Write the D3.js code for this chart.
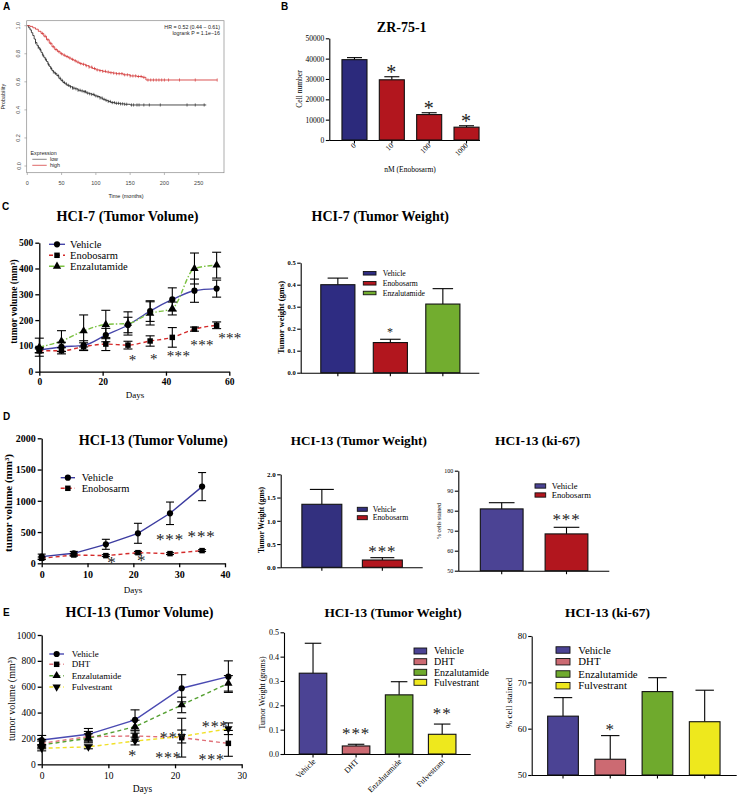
<!DOCTYPE html>
<html><head><meta charset="utf-8">
<script src="https://cdn.jsdelivr.net/npm/d3@7"></script>
<style>body{margin:0;background:#fff}svg{display:block}</style>
</head><body>
<script>
// ================= DATA =================
// Panel A (Kaplan-Meier)
const kmLowTime = [0,2,4,6,8,10,12,14,16,18,20,22,24,26,28,30,32,34,36,38,40,43,46,49,52,55,58,62,66,70,74,78,82,86,90,94,98,102,106,110,114,118,122,128,135,142,150,261];
const kmLowSurv = [1.0,0.985,0.97,0.95,0.93,0.905,0.88,0.86,0.845,0.83,0.81,0.79,0.775,0.76,0.745,0.725,0.71,0.695,0.68,0.67,0.66,0.645,0.625,0.61,0.595,0.585,0.575,0.565,0.555,0.55,0.54,0.535,0.53,0.52,0.515,0.51,0.5,0.495,0.485,0.475,0.468,0.46,0.452,0.447,0.443,0.44,0.435,0.435];
const kmHighTime = [0,4,8,12,16,20,24,28,32,36,40,44,48,52,56,60,64,68,72,76,80,85,90,95,100,105,110,115,120,125,130,140,150,160,168,173,277];
const kmHighSurv = [1.0,0.995,0.985,0.975,0.96,0.945,0.925,0.9,0.875,0.85,0.83,0.815,0.8,0.79,0.78,0.77,0.76,0.75,0.74,0.73,0.725,0.715,0.705,0.695,0.685,0.68,0.675,0.67,0.665,0.662,0.658,0.65,0.642,0.638,0.632,0.613,0.613];
const kmLowCensor = [12,16,19,23,27,31,35,38,41,45,48,51,54,57,60,63,66,68,71,74,77,80,83,85,88,91,94,97,100,103,106,109,112,115,118,121,124,127,130,133,136,139,142,145,152,155,160,163,170,178,194,233,245,258];
const kmHighCensor = [22,26,30,34,38,42,46,50,54,58,62,66,70,74,78,82,86,90,94,98,102,106,110,114,118,122,126,130,134,138,142,146,150,154,158,162,166,170,176,180,184,188,192,196,200,206,222,245,277];
const kmXTicks = [0,50,100,150,200,250];
const kmYTicks = [0,0.2,0.4,0.6,0.8,1.0];

// Panel B
const bCats = ["0","10","100","1000"];
const bVals = [39500,29600,12500,6300];
const bErrs = [1000,1500,900,700];
const bStars = ["","*","*","*"];
const bYTicks = [0,10000,20000,30000,40000,50000];

// Panel C (HCI-7)
const cDays = [0,7,14,21,28,35,42,49,56];
const cVehicle = [84,96,102,142,181,235,280,314,322];
const cVehicleErr = [10,18,18,26,30,40,45,45,33];
const cEnobosarm = [81,81,97,107,103,119,133,165,180];
const cEnobosarmErr = [8,12,15,25,15,20,38,8,13];
const cEnzalutamide = [95,119,158,183,187,226,245,400,413];
const cEnzalutamideErr = [35,40,62,55,45,45,25,60,50];
const cXTicks = [0,20,40,60];
const cYTicks = [0,100,200,300,400,500];
const cStarDays = [29.5,36.2,43.96,51.4,60.2];
const cStarVals = [53,57,69,111,138];
const cStarLabels = ["*","*","***","***","***"];
const cwCats = ["Vehicle","Enobosarm","Enzalutamide"];
const cwVals = [0.40,0.137,0.312];
const cwErrs = [0.03,0.015,0.07];
const cwStars = ["","*",""];
const cwYTicks = [0,0.1,0.2,0.3,0.4,0.5];

// Panel D (HCI-13)
const dDays = [0,7,14,21,28,35];
const dVehicle = [107,160,304,480,800,1227];
const dVehicleErr = [40,30,80,160,180,225];
const dEnobosarm = [80,133,123,170,155,203];
const dEnobosarmErr = [20,20,15,20,15,15];
const dXTicks = [0,10,20,30,40];
const dYTicks = [0,500,1000,1500,2000];
const dStarDays = [15.3,21.8,28,34.9];
const dStarVals = [53,85,421,469];
const dStarLabels = ["*","*","***","***"];
const dwCats = ["Vehicle","Enobosarm"];
const dwVals = [1.355,0.157];
const dwErrs = [0.32,0.05];
const dwStars = ["","***"];
const dwYTicks = [0,0.5,1.0,1.5,2.0];
const dkVals = [80.9,68.4];
const dkErrs = [3.1,3.3];
const dkStars = ["","***"];
const dkYTicks = [50,60,70,80,90,100];

// Panel E (HCI-13)
const eDays = [0,7,14,21,28];
const eVehicle = [188,232,343,588,678];
const eVehicleErr = [35,45,78,105,122];
const eDHT = [162,214,219,206,162];
const eDHTErr = [30,40,40,150,100];
const eEnzalutamide = [150,201,291,459,626];
const eEnzalutamideErr = [30,35,50,60,60];
const eFulvestrant = [124,135,180,215,275];
const eFulvestrantErr = [20,15,30,50,45];
const eXTicks = [0,10,20,30];
const eYTicks = [0,200,400,600,800,1000];
const eStarDays = [13.65,19,19.7,26,25.5];
const eStarVals = [85,72,221,309,51];
const eStarLabels = ["*","***","***","***","***"];
const ewCats = ["Vehicle","DHT","Enzalutamide","Fulvestrant"];
const ewVals = [0.332,0.033,0.243,0.081];
const ewErrs = [0.123,0.007,0.054,0.042];
const ewStars = ["","***","","**"];
const ewYTicks = [0,0.1,0.2,0.3,0.4,0.5];
const ekVals = [62.7,53.4,68.0,61.5];
const ekErrs = [4.0,5.1,3.0,6.8];
const ekStars = ["","*","",""];
const ekYTicks = [50,60,70,80];

// ================= DRAWING =================
const W=737,H=797;
const SERIF="'Liberation Serif','Times New Roman',Times,serif";
const SANS="'Liberation Sans',Arial,Helvetica,sans-serif";
const svg=d3.select("body").append("svg").attr("width",W).attr("height",H);
svg.append("rect").attr("width",W).attr("height",H).attr("fill","#fff");

function txt(g,x,y,s,o={}){
  const t=g.append("text").attr("x",x).attr("y",y).text(s)
    .attr("font-family",o.family||SERIF).attr("font-size",o.size||10)
    .attr("font-weight",o.weight||"normal").attr("text-anchor",o.anchor||"start")
    .attr("fill",o.fill||"#000");
  if(o.rotate!=null) t.attr("transform",`rotate(${o.rotate},${x},${y})`);
  if(o.ls!=null) t.attr("letter-spacing",o.ls);
  return t;
}
function styleAxis(sel,o){
  sel.attr("font-family",null).attr("font-size",null);
  sel.select(".domain").attr("stroke","#000").attr("stroke-width",o.w||1.2);
  sel.selectAll(".tick line").attr("stroke","#000").attr("stroke-width",o.w||1.2);
  sel.selectAll(".tick text").attr("font-family",o.family||SERIF).attr("font-size",o.size)
    .attr("font-weight",o.weight||"normal").attr("fill","#000");
}
function star(g,cx,cy,label,fs,ls){
  txt(g,cx,cy+0.47*fs,label,{size:fs,anchor:"middle",fill:"#222",ls:ls!=null?ls:fs*0.05});
}

// Panel letters
txt(svg,3,9.5,"A",{family:SANS,size:10,weight:"bold"});
txt(svg,281,9.5,"B",{family:SANS,size:10,weight:"bold"});
txt(svg,2,209.5,"C",{family:SANS,size:10,weight:"bold"});
txt(svg,3,420,"D",{family:SANS,size:10,weight:"bold"});
txt(svg,3,615.5,"E",{family:SANS,size:10,weight:"bold"});

// ---------- Panel A ----------
(function(){
  const g=svg.append("g");
  const x=d3.scaleLinear().domain([0,250]).range([27.3,198.7]);
  const y=d3.scaleLinear().domain([0,1]).range([166,25.7]);
  g.append("rect").attr("x",26.7).attr("y",20.7).attr("width",197.3).attr("height",152)
    .attr("fill","none").attr("stroke","#8a8a8a").attr("stroke-width",0.7);
  kmXTicks.forEach(t=>{
    g.append("line").attr("x1",x(t)).attr("x2",x(t)).attr("y1",172.7).attr("y2",175).attr("stroke","#8a8a8a").attr("stroke-width",0.6);
    txt(g,x(t),184.5,String(t),{family:SANS,size:5.5,anchor:"middle",fill:"#444"});
  });
  kmYTicks.forEach(v=>{
    g.append("line").attr("x1",24.4).attr("x2",26.7).attr("y1",y(v)).attr("y2",y(v)).attr("stroke","#8a8a8a").attr("stroke-width",0.6);
    txt(g,20.5,y(v),v.toFixed(1),{family:SANS,size:5.5,anchor:"middle",fill:"#444",rotate:-90});
  });
  const line=d3.line().x(d=>x(d[0])).y(d=>y(d[1])).curve(d3.curveStepAfter);
  function km(times,surv,cens,color){
    const pts=times.map((t,i)=>[t,surv[i]]);
    g.append("path").datum(pts).attr("d",line).attr("fill","none").attr("stroke",color).attr("stroke-width",0.8);
    const sAt=t=>{let s=surv[0];for(let i=0;i<times.length;i++){if(times[i]<=t)s=surv[i];}return s;};
    cens.forEach(t=>{
      const cx=x(t),cy=y(sAt(t));
      g.append("line").attr("x1",cx).attr("x2",cx).attr("y1",cy-1.6).attr("y2",cy+1.6).attr("stroke",color).attr("stroke-width",0.6);
    });
  }
  km(kmLowTime,kmLowSurv,kmLowCensor,"#1e1e1e");
  km(kmHighTime,kmHighSurv,kmHighCensor,"#d02828");
  txt(g,220,28.5,"HR = 0.52 (0.44 − 0.61)",{family:SANS,size:5.3,anchor:"end",fill:"#222"});
  txt(g,220,35,"logrank P = 1.1e−16",{family:SANS,size:5.3,anchor:"end",fill:"#222"});
  txt(g,30.5,154.5,"Expression",{family:SANS,size:5.3,fill:"#222"});
  g.append("line").attr("x1",32.3).attr("x2",46.7).attr("y1",159.3).attr("y2",159.3).attr("stroke","#555").attr("stroke-width",0.7);
  g.append("line").attr("x1",32.3).attr("x2",46.7).attr("y1",165.3).attr("y2",165.3).attr("stroke","#d02828").attr("stroke-width",0.7);
  txt(g,50,161,"low",{family:SANS,size:5.3,fill:"#222"});
  txt(g,50,167,"high",{family:SANS,size:5.3,fill:"#222"});
  txt(g,126,197.5,"Time (months)",{family:SANS,size:5.5,anchor:"middle",fill:"#222"});
  txt(g,5.5,96.7,"Probability",{family:SANS,size:5.5,anchor:"middle",fill:"#222",rotate:-90});
})();

// ---------- Bar panel helper ----------
function barPanel(c){
  const g=svg.append("g");
  const x=d3.scaleBand().domain(c.cats).range(c.band).paddingInner(c.pad).paddingOuter(c.pad/2);
  const y=d3.scaleLinear().domain(c.yDomain).range([c.bottom,c.top]);
  const ya=g.append("g").attr("transform",`translate(${c.axisX},0)`)
    .call(d3.axisLeft(y).tickValues(c.yTicks).tickSize(c.tickLen||3.5).tickSizeOuter(0).tickPadding(1.5).tickFormat(c.fmt));
  styleAxis(ya,{size:c.tickSize,weight:c.tickWeight,w:c.axisW||1.1});
  g.append("line").attr("x1",c.axisX).attr("x2",c.axisEnd).attr("y1",c.bottom+0.5).attr("y2",c.bottom+0.5)
    .attr("stroke","#000").attr("stroke-width",c.axisW||1.1);
  const bw=x.bandwidth();
  c.cats.forEach((cat,i)=>{
    const cx=x(cat)+bw/2;
    g.append("line").attr("x1",cx).attr("x2",cx).attr("y1",c.bottom).attr("y2",c.bottom+(c.tickLen||3.5))
      .attr("stroke","#000").attr("stroke-width",c.axisW||1.1);
    const top=y(c.vals[i]), et=y(c.vals[i]+c.errs[i]);
    g.append("line").attr("x1",cx).attr("x2",cx).attr("y1",top).attr("y2",et).attr("stroke","#000").attr("stroke-width",1.1);
    g.append("line").attr("x1",cx-bw*0.3).attr("x2",cx+bw*0.3).attr("y1",et).attr("y2",et).attr("stroke","#000").attr("stroke-width",1.1);
    g.append("rect").attr("x",x(cat)).attr("y",top).attr("width",bw).attr("height",c.bottom-top)
      .attr("fill",c.colors[i]).attr("stroke","#111").attr("stroke-width",1.1);
    if(c.stars[i]) star(g,cx,et-c.starGap,c.stars[i],c.starSize);
    if(c.xLabels){
      txt(g,cx+c.xLabDx,c.bottom+c.xLabDy,c.xLabels[i],{size:c.xLabSize,anchor:"end",rotate:-45});
    }
  });
  if(c.legend){
    const L=c.legend;
    c.cats.forEach((cat,i)=>{
      g.append("rect").attr("x",L.x).attr("y",L.rows[i]-L.h/2).attr("width",L.w).attr("height",L.h)
        .attr("fill",c.colors[i]).attr("stroke","#111").attr("stroke-width",0.9);
      txt(g,L.tx,L.rows[i]+L.size*0.33,cat,{size:L.size});
    });
  }
  return g;
}

// ---------- Line panel helper ----------
const SYM={circle:d3.symbolCircle,square:d3.symbolSquare,triangle:d3.symbolTriangle,tdown:d3.symbolTriangle};
function drawSym(g,type,cx,cy,size){
  g.append("path").attr("d",d3.symbol().type(SYM[type]).size(size)())
    .attr("transform",`translate(${cx},${cy})${type==="tdown"?" rotate(180)":""}`).attr("fill","#000");
}
function linePanel(c){
  const g=svg.append("g");
  const x=d3.scaleLinear().domain(c.xDomain).range([c.left,c.right]);
  const y=d3.scaleLinear().domain(c.yDomain).range([c.bottom,c.top]);
  const ya=g.append("g").attr("transform",`translate(${c.left},0)`)
    .call(d3.axisLeft(y).tickValues(c.yTicks).tickSize(4).tickSizeOuter(0).tickPadding(2).tickFormat(d3.format("d")));
  styleAxis(ya,{size:c.tickSize,weight:c.tickWeight,w:1.3});
  const xa=g.append("g").attr("transform",`translate(0,${c.bottom})`)
    .call(d3.axisBottom(x).tickValues(c.xTicks).tickSize(4).tickSizeOuter(0).tickPadding(c.xPad).tickFormat(d3.format("d")));
  styleAxis(xa,{size:c.tickSize,weight:c.tickWeight,w:1.3});
  c.series.forEach(s=>{
    g.append("path").datum(c.days)
      .attr("d",d3.line().x(d=>x(d)).y((d,i)=>y(s.vals[i])).curve(c.curve))
      .attr("fill","none").attr("stroke",s.color).attr("stroke-width",1.4)
      .attr("stroke-dasharray",s.dash||null);
  });
  c.series.forEach(s=>{
    c.days.forEach((d,i)=>{
      const cx=x(d),y1=y(s.vals[i]+s.errs[i]),y2=y(Math.max(0,s.vals[i]-s.errs[i]));
      g.append("line").attr("x1",cx).attr("x2",cx).attr("y1",y1).attr("y2",y2).attr("stroke","#000").attr("stroke-width",1.1);
      [y1,y2].forEach(yy=>g.append("line").attr("x1",cx-c.cap/2).attr("x2",cx+c.cap/2).attr("y1",yy).attr("y2",yy).attr("stroke","#000").attr("stroke-width",1.1));
    });
  });
  c.series.forEach(s=>{
    c.days.forEach((d,i)=>drawSym(g,s.sym,x(d),y(s.vals[i]),c.symSize));
  });
  c.starDays.forEach((d,i)=>star(g,x(d),y(c.starVals[i]),c.starLabels[i],c.starSize,c.starLs));
  const L=c.legend;
  c.series.forEach((s,i)=>{
    g.append("line").attr("x1",L.x1).attr("x2",L.x2).attr("y1",L.rows[i]).attr("y2",L.rows[i])
      .attr("stroke",s.color).attr("stroke-width",1.4).attr("stroke-dasharray",s.dash||null);
    drawSym(g,s.sym,(L.x1+L.x2)/2,L.rows[i],c.symSize);
    txt(g,L.tx,L.rows[i]+L.size*0.33,s.name,{size:L.size});
  });
  return g;
}

// ---------- Panel B ----------
barPanel({cats:bCats,vals:bVals,errs:bErrs,stars:bStars,band:[335.8,485.2],pad:0.33,
  yDomain:[0,50000],bottom:140,top:38.3,axisX:329.3,axisEnd:480,yTicks:bYTicks,fmt:d3.format("d"),
  tickSize:7.5,tickWeight:"normal",colors:["#2c2a7c","#b2161e","#b2161e","#b2161e"],
  starGap:7,starSize:20,xLabels:bCats,xLabDx:2,xLabDy:6,xLabSize:7.5});
txt(svg,401.7,31.5,"ZR-75-1",{size:14,weight:"bold",anchor:"middle"});
txt(svg,410,172,"nM (Enobosarm)",{size:7.5,anchor:"middle"});
txt(svg,301.5,89,"Cell number",{size:7.5,anchor:"middle",rotate:-90});

// ---------- Panel C ----------
linePanel({days:cDays,xDomain:[0,60],yDomain:[0,500],left:39.3,right:229.3,bottom:371.7,top:242.7,
  xTicks:cXTicks,yTicks:cYTicks,tickSize:9.5,tickWeight:"bold",xPad:2.6,curve:d3.curveMonotoneX,cap:9,symSize:30,
  series:[
    {name:"Vehicle",vals:cVehicle,errs:cVehicleErr,color:"#4646aa",dash:null,sym:"circle"},
    {name:"Enobosarm",vals:cEnobosarm,errs:cEnobosarmErr,color:"#d42a2a",dash:"4,3",sym:"square"},
    {name:"Enzalutamide",vals:cEnzalutamide,errs:cEnzalutamideErr,color:"#7cc142",dash:"5,2,1.5,2",sym:"triangle"}
  ],
  starDays:cStarDays,starVals:cStarVals,starLabels:cStarLabels,starSize:15,starLs:0.3,
  legend:{x1:49,x2:65,tx:70,rows:[244.3,255.3,266.3],size:10.5}});
txt(svg,127.5,221,"HCI-7 (Tumor Volume)",{size:14.2,weight:"bold",anchor:"middle"});
txt(svg,135,398,"Days",{size:9,anchor:"middle"});
txt(svg,16.5,301.5,"tumor volume (mm³)",{size:9.5,weight:"bold",anchor:"middle",rotate:-90});

barPanel({cats:cwCats,vals:cwVals,errs:cwErrs,stars:cwStars,band:[311.6,469.1],pad:0.35,
  yDomain:[0,0.5],bottom:372.7,top:262.7,axisX:300.7,axisEnd:479.3,yTicks:cwYTicks,fmt:d3.format(".1f"),
  tickSize:6.5,tickWeight:"bold",colors:["#2e2c82","#b2161e","#72ad2f"],starGap:9,starSize:12,
  legend:{x:363.3,w:12.7,h:3.5,tx:382.7,rows:[273.3,283.3,293],size:7.7}});
txt(svg,380.3,221,"HCI-7 (Tumor Weight)",{size:14,weight:"bold",anchor:"middle"});
txt(svg,284.3,317.5,"Tumor weight  (gms)",{size:8.5,weight:"bold",anchor:"middle",rotate:-90});

// ---------- Panel D ----------
linePanel({days:dDays,xDomain:[0,40],yDomain:[0,2000],left:41.7,right:225,bottom:563.3,top:438.3,
  xTicks:dXTicks,yTicks:dYTicks,tickSize:10,tickWeight:"bold",xPad:4,curve:d3.curveLinear,cap:8,symSize:30,
  series:[
    {name:"Vehicle",vals:dVehicle,errs:dVehicleErr,color:"#3c3ca0",dash:null,sym:"circle"},
    {name:"Enobosarm",vals:dEnobosarm,errs:dEnobosarmErr,color:"#d42a2a",dash:"4,3",sym:"square"}
  ],
  starDays:dStarDays,starVals:dStarVals,starLabels:dStarLabels,starSize:17,
  legend:{x1:60.7,x2:75,tx:81.7,rows:[477.7,488.3],size:10.5}});
txt(svg,153.3,445,"HCI-13 (Tumor Volume)",{size:14.2,weight:"bold",anchor:"middle"});
txt(svg,133,593,"Days",{size:9,anchor:"middle"});
txt(svg,12,503,"tumor volume (mm³)",{size:11,weight:"bold",anchor:"middle",rotate:-90});

barPanel({cats:dwCats,vals:dwVals,errs:dwErrs,stars:dwStars,band:[291.6,412.6],pad:0.34,
  yDomain:[0,2],bottom:567.3,top:474.3,axisX:280.7,axisEnd:422.7,yTicks:dwYTicks,fmt:d3.format(".1f"),
  tickSize:7,tickWeight:"bold",colors:["#33307f","#b2161e"],starGap:8.4,starSize:17,
  legend:{x:357.3,w:10,h:4,tx:372.7,rows:[509.3,517.7],size:7.8}});
txt(svg,358.8,445,"HCI-13 (Tumor Weight)",{size:13.2,weight:"bold",anchor:"middle"});
txt(svg,264.2,520,"Tumor Weight (gms)",{size:7.5,weight:"bold",anchor:"middle",rotate:-90});

barPanel({cats:dwCats,vals:dkVals,errs:dkErrs,stars:dkStars,band:[469.3,598.9],pad:0.34,
  yDomain:[50,100],bottom:570.7,top:470.7,axisX:458.3,axisEnd:609.3,yTicks:dkYTicks,fmt:d3.format("d"),
  tickSize:6,tickWeight:"normal",colors:["#4b4394","#b2161e"],starGap:10.6,starSize:17,
  legend:{x:535,w:10.7,h:4.3,tx:551.7,rows:[486,495],size:8.6}});
txt(svg,537.5,445,"HCI-13 (ki-67)",{size:13.5,weight:"bold",anchor:"middle"});
txt(svg,441,521,"% cells stained",{size:6,anchor:"middle",rotate:-90});

// ---------- Panel E ----------
linePanel({days:eDays,xDomain:[0,30],yDomain:[0,1000],left:41.7,right:241.7,bottom:764.3,top:635,
  xTicks:eXTicks,yTicks:eYTicks,tickSize:9.5,tickWeight:"normal",xPad:4,curve:d3.curveLinear,cap:9,symSize:30,
  series:[
    {name:"Vehicle",vals:eVehicle,errs:eVehicleErr,color:"#4a4ab2",dash:null,sym:"circle"},
    {name:"DHT",vals:eDHT,errs:eDHTErr,color:"#e07078",dash:"4,3",sym:"square"},
    {name:"Enzalutamide",vals:eEnzalutamide,errs:eEnzalutamideErr,color:"#55a032",dash:"4,3",sym:"triangle"},
    {name:"Fulvestrant",vals:eFulvestrant,errs:eFulvestrantErr,color:"#f0e028",dash:"4,3",sym:"tdown"}
  ],
  starDays:eStarDays,starVals:eStarVals,starLabels:eStarLabels,starSize:16,
  legend:{x1:49.3,x2:64,tx:71.7,rows:[654,664.3,675.7,687],size:9}});
txt(svg,139.5,617,"HCI-13 (Tumor Volume)",{size:14.1,weight:"bold",anchor:"middle"});
txt(svg,142.5,791.5,"Days",{size:9.5,anchor:"middle"});
txt(svg,14.5,699,"tumor volume (mm³)",{size:10,anchor:"middle",rotate:-90});

barPanel({cats:ewCats,vals:ewVals,errs:ewErrs,stars:ewStars,band:[291.5,463.7],pad:0.36,
  yDomain:[0,0.5],bottom:754,top:632.3,axisX:284,axisEnd:470.7,yTicks:ewYTicks,fmt:d3.format(".1f"),
  tickSize:8,tickWeight:"normal",colors:["#4b4394","#cc6a72","#6faa2d","#eee81d"],starGap:13,starSize:17,
  xLabels:ewCats,xLabDx:3,xLabDy:8,xLabSize:8,
  legend:{x:414,w:12.7,h:6,tx:434,rows:[651,661.7,672.3,682.3],size:10}});
txt(svg,393,617,"HCI-13 (Tumor Weight)",{size:13.3,weight:"bold",anchor:"middle"});
txt(svg,264.5,693,"Tumor Weight (grams)",{size:8,anchor:"middle",rotate:-90});

barPanel({cats:ewCats,vals:ekVals,errs:ekErrs,stars:ekStars,band:[539.4,728.3],pad:0.35,
  yDomain:[50,80],bottom:775,top:636,axisX:531.7,axisEnd:736.7,yTicks:ekYTicks,fmt:d3.format("d"),
  tickSize:9,tickWeight:"normal",colors:["#4b4394","#cc6a72","#6faa2d","#eee81d"],starGap:9,starSize:17,
  legend:{x:556,w:14,h:6.5,tx:578.3,rows:[650,661.7,674,685.7],size:10.8}});
txt(svg,607.5,617,"HCI-13 (ki-67)",{size:13.5,weight:"bold",anchor:"middle"});
txt(svg,511.5,703,"% cell stained",{size:9,anchor:"middle",rotate:-90});
</script>
</body></html>
